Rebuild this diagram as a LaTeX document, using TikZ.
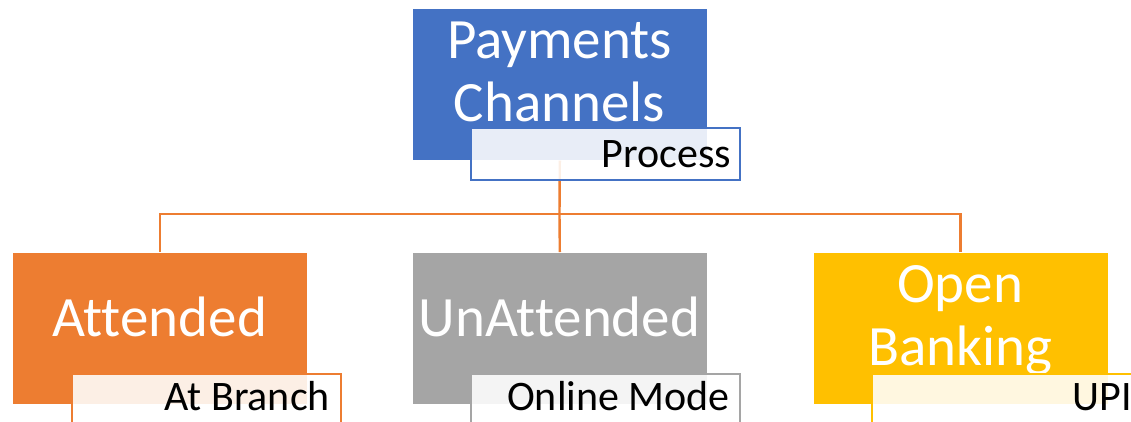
\documentclass[tikz,border=0pt]{standalone}
\usepackage{fontspec}
\setmainfont{Carlito}[Ligatures=NoCommon]
\definecolor{cblue}{HTML}{4472C4}
\definecolor{corange}{HTML}{ED7D31}
\definecolor{cgray}{HTML}{A5A5A5}
\definecolor{cgold}{HTML}{FFC000}
\tikzset{
  mainbox/.style={rectangle, anchor=north west, minimum width=295pt, minimum height=152pt, inner sep=0pt, draw=white, line width=0.6pt},
  maintext/.style={text=white, font=\fontsize{57}{63}\selectfont, align=center, inner sep=0pt},
  labbox/.style={rectangle, anchor=north west, minimum width=269pt, minimum height=52pt, inner sep=0pt, fill=white, fill opacity=0.88, line width=2pt},
  labtext/.style={text=black, font=\fontsize{42}{48}\selectfont, anchor=base east, inner sep=0pt},
  conn/.style={draw=corange, line width=2.4pt}
}
\begin{document}
\begin{tikzpicture}[x=1pt,y=-1pt]
\clip (0,0) rectangle (1131,421);
\fill[white] (0,0) rectangle (1131,421);
% bus coordinate
\coordinate (bus) at (559.5,214);
% main boxes
\node[mainbox, fill=cblue] (pc) at (412,8) {};
\node[mainbox, fill=corange] (att) at (12,252) {};
\node[mainbox, fill=cgray] (un) at (412,252) {};
\node[mainbox, fill=cgold] (ob) at (812.5,252) {};
% connectors
\draw[conn] (pc.south) -- (bus);
\draw[conn] (bus) -| (att.north);
\draw[conn] (bus) -- (un.north);
\draw[conn] (bus) -| (ob.north);
% main texts
\node[maintext] (pct) at (559.5,72) {Payments\\Channels};
\node[maintext] (attt) at (159.5,317) {Attended};
\node[maintext] (unt) at (559.5,317) {UnAttended};
\node[maintext] (obt) at (960,320) {Open\\Banking};
% label boxes
\node[labbox, draw=cblue] (pcl) at (470,127) {};
\node[labbox, draw=corange] (attl) at (71,373) {};
\node[labbox, draw=cgray] (unl) at (470,373) {};
\node[labbox, draw=cgold] (obl) at (871,373) {};
% label texts
\node[labtext] (pclt) at ([xshift=-10pt,yshift=14pt]pcl.south east) {Process};
\node[labtext] (attlt) at ([xshift=-12pt,yshift=17pt]attl.south east) {At Branch};
\node[labtext] (unlt) at ([xshift=-11pt,yshift=17pt]unl.south east) {Online Mode};
\node[labtext] (oblt) at ([xshift=-10pt,yshift=17pt]obl.south east) {UPI};
\end{tikzpicture}
\end{document}
